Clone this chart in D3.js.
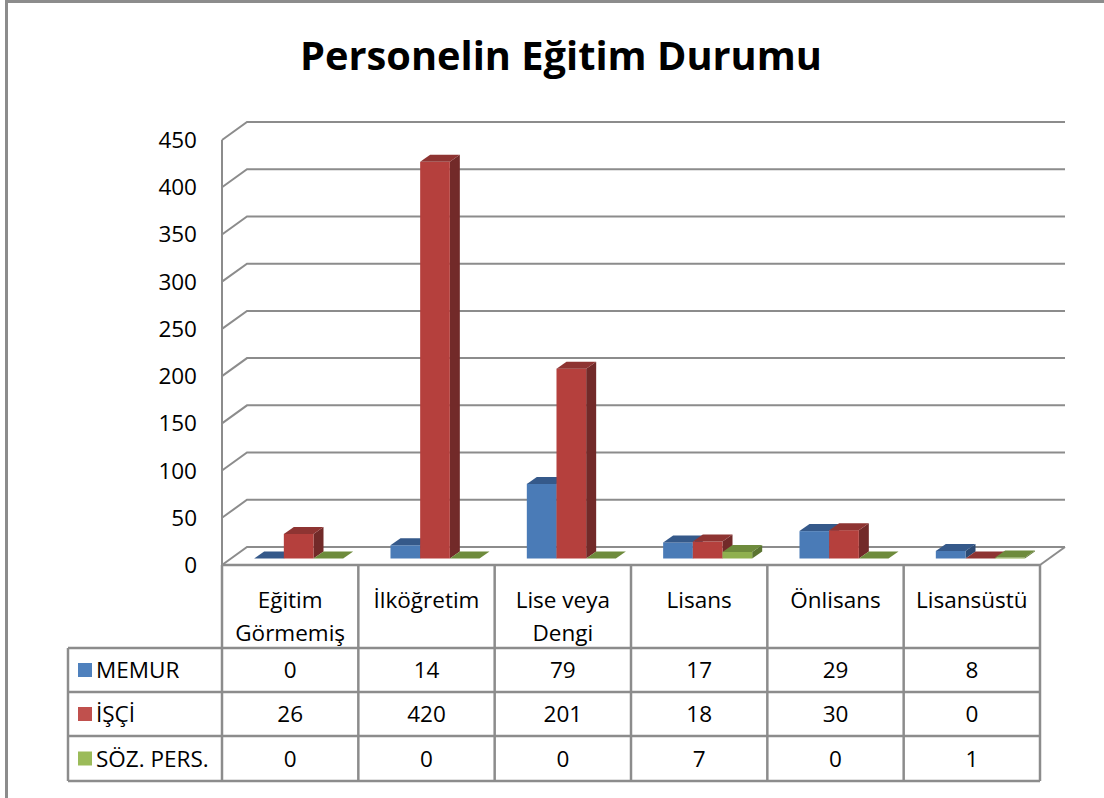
<!DOCTYPE html>
<html lang="tr">
<head>
<meta charset="UTF-8">
<title>Personelin Eğitim Durumu</title>
<script src="https://cdn.jsdelivr.net/npm/d3@7"></script>
<style>
  body { margin: 0; background: #fff; }
  text { font-family: "Open Sans", Lato, sans-serif; fill: #000; }
</style>
</head>
<body>
<script>
// Daten
const categories = ["Eğitim Görmemiş", "İlköğretim", "Lise veya Dengi", "Lisans", "Önlisans", "Lisansüstü"];
const categoryLines = [["Eğitim", "Görmemiş"], ["İlköğretim"], ["Lise veya", "Dengi"], ["Lisans"], ["Önlisans"], ["Lisansüstü"]];
const seriesNames = ["MEMUR", "İŞÇİ", "SÖZ. PERS."];
const memur = [0, 14, 79, 17, 29, 8];
const isci = [26, 420, 201, 18, 30, 0];
const sozPers = [0, 0, 0, 7, 0, 1];
const yTicks = [0, 50, 100, 150, 200, 250, 300, 350, 400, 450];

const seriesValues = [memur, isci, sozPers];
const colors = [
  { key: "#4f81bd", front: "#4a7bb7", top: "#35598a", side: "#2c4a73" },
  { key: "#c0504d", front: "#b5403d", top: "#8e3432", side: "#722a29" },
  { key: "#9bbb59", front: "#8fb04e", top: "#6e8b3c", side: "#5b7431" }
];

const W = 1104, H = 798;
const left = 222, right = 1040, floorY = 565, topY = 140;
const depth = { x: 25, y: -18 };      // Tiefe der Rueckwand
const barOff = { x: 8.5, y: -6.5 };   // Position der Balken in der Tiefe
const barDepth = { x: 10, y: -7 };    // Tiefe eines Balkens
const fs = 22.5;                      // Schriftgroesse Tabelle

const svg = d3.select("body").append("svg")
  .attr("width", W).attr("height", H);

// Rahmen
svg.append("path")
  .attr("d", `M6.5,${H} L6.5,1.5 L${W},1.5`)
  .attr("fill", "none").attr("stroke", "#8c8c8c").attr("stroke-width", 3);

// Titel (auf Breite des Originals angepasst)
const title = svg.append("text")
  .attr("x", 561).attr("y", 70)
  .attr("text-anchor", "middle")
  .attr("font-weight", "bold")
  .attr("font-size", 40)
  .text("Personelin Eğitim Durumu");
const tw = title.node().getComputedTextLength();
title.attr("font-size", 40 * 522 / tw);

const y = d3.scaleLinear().domain([0, 450]).range([floorY, topY]);
const x = d3.scaleBand().domain(categories).range([left, right]);
const inner = d3.scaleBand().domain(seriesNames).range([0, x.bandwidth() * 0.653]);
const groupPad = (x.bandwidth() - inner.range()[1]) / 2;

const gridColor = "#8c8c8c";
const grid = svg.append("g").attr("stroke", gridColor).attr("stroke-width", 2).attr("fill", "none");

// Gitternetz an Rueck- und Seitenwand
yTicks.forEach(t => {
  const yy = y(t);
  grid.append("path")
    .attr("d", `M${left},${yy} L${left + depth.x},${yy + depth.y} L${right + depth.x},${yy + depth.y}`);
});
// Seitenwand vorne
grid.append("line").attr("x1", left).attr("x2", left).attr("y1", y(450)).attr("y2", floorY);
// Boden rechts
grid.append("line").attr("x1", right).attr("y1", floorY).attr("x2", right + depth.x).attr("y2", floorY + depth.y);

// y-Achse Beschriftung
svg.append("g").selectAll("text").data(yTicks).join("text")
  .attr("x", 197).attr("y", d => y(d) + 8)
  .attr("text-anchor", "end")
  .attr("font-size", 22.5)
  .text(d => d);

// Balken
const bars = svg.append("g");
categories.forEach((c, ci) => {
  seriesNames.forEach((s, si) => {
    const v = seriesValues[si][ci];
    const x0 = x(c) + groupPad + inner(s) + barOff.x;
    const bw = inner.bandwidth();
    const base = floorY + barOff.y;
    const yt = base - (floorY - y(v));
    const g = bars.append("g");
    g.append("path")
      .attr("d", `M${x0 + bw},${yt} L${x0 + bw + barDepth.x},${yt + barDepth.y} L${x0 + bw + barDepth.x},${base + barDepth.y} L${x0 + bw},${base}Z`)
      .attr("fill", colors[si].side);
    g.append("rect")
      .attr("x", x0).attr("y", yt).attr("width", bw).attr("height", base - yt)
      .attr("fill", colors[si].front);
    g.append("path")
      .attr("d", `M${x0},${yt} L${x0 + bw},${yt} L${x0 + bw + barDepth.x},${yt + barDepth.y} L${x0 + barDepth.x},${yt + barDepth.y}Z`)
      .attr("fill", colors[si].top);
  });
});

// Datentabelle
const rowY = [565, 648, 692, 736, 781];
const legendLeft = 68;
const table = svg.append("g").attr("stroke", gridColor).attr("stroke-width", 2.5).attr("fill", "none");
// horizontale Linien
table.append("line").attr("x1", left).attr("x2", right).attr("y1", rowY[0]).attr("y2", rowY[0]);
rowY.slice(1).forEach(ry => {
  table.append("line").attr("x1", legendLeft).attr("x2", right).attr("y1", ry).attr("y2", ry);
});
// vertikale Linien
categories.forEach(c => {
  table.append("line").attr("x1", x(c)).attr("x2", x(c)).attr("y1", rowY[0]).attr("y2", rowY[4]);
});
table.append("line").attr("x1", right).attr("x2", right).attr("y1", rowY[0]).attr("y2", rowY[4]);
table.append("line").attr("x1", legendLeft).attr("x2", legendLeft).attr("y1", rowY[1]).attr("y2", rowY[4]);

// Kategorien
categories.forEach((c, ci) => {
  const lines = categoryLines[ci];
  svg.append("text")
    .attr("text-anchor", "middle")
    .attr("font-size", fs)
    .selectAll("tspan").data(lines).join("tspan")
    .attr("x", x(c) + x.bandwidth() / 2)
    .attr("y", (d, i) => 608 + i * 33)
    .text(d => d);
});

// Legende + Werte
seriesNames.forEach((s, si) => {
  const cy = (rowY[si + 1] + rowY[si + 2]) / 2;
  svg.append("rect")
    .attr("x", 78).attr("y", cy - 7).attr("width", 14).attr("height", 14)
    .attr("fill", colors[si].key);
  svg.append("text")
    .attr("x", 96).attr("y", cy + 8)
    .attr("font-size", fs)
    .text(s);
  categories.forEach((c, ci) => {
    svg.append("text")
      .attr("x", x(c) + x.bandwidth() / 2).attr("y", cy + 8)
      .attr("text-anchor", "middle")
      .attr("font-size", fs)
      .text(seriesValues[si][ci]);
  });
});
</script>
</body>
</html>
